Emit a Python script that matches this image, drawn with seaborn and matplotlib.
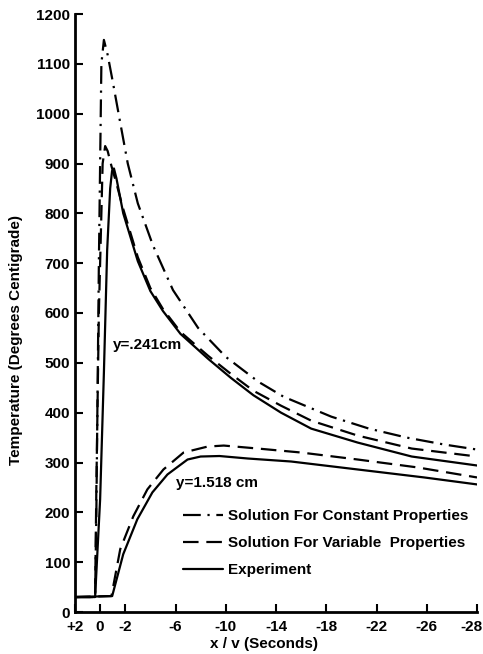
import numpy as np
import pandas as pd
import matplotlib
matplotlib.use("Agg")
import matplotlib.pyplot as plt
import matplotlib.transforms as mtransforms
import seaborn as sns

# ---- data ----
# y = .241 cm
const_x = [2, 0.4, 0.3, 0.1, -0.1, -0.3, -0.6, -1.0, -1.6, -2.2, -3.0, -4.2, -5.8, -7.8, -10, -12.6, -14.6, -18.4, -21.4, -24.4, -27.4, -30]
const_T = [30, 30, 200, 700, 1100, 1148, 1118, 1065, 982, 900, 820, 736, 646, 570, 512, 462, 432, 392, 368, 350, 336, 326]

var_x = [2, 0.4, 0.3, 0.1, -0.2, -0.4, -0.6, -0.9, -1.3, -1.8, -3.0, -4.0, -5.0, -6.4, -8.6, -10.4, -12.2, -14.4, -16.8, -20.5, -24.8, -30]
var_T = [30, 30, 250, 600, 900, 935, 925, 895, 860, 812, 712, 650, 608, 562, 514, 478, 444, 414, 384, 354, 328, 312]

exp_x = [2, 0.4, 0.0, -0.3, -0.56, -0.8, -0.95, -1.1, -1.3, -1.84, -3.0, -4.0, -5.0, -6.4, -8.6, -10.4, -12.2, -14.4, -16.8, -20.5, -24.8, -30]
exp_T = [30, 30, 226, 480, 726, 850, 885, 890, 870, 800, 704, 644, 604, 558, 508, 470, 435, 400, 368, 340, 312, 294]

# y = 1.518 cm
var2_x = [2, -0.9, -1.6, -2.64, -3.76, -5.04, -6.64, -8.56, -9.84, -12.56, -16, -20.5, -25.3, -30]
var2_T = [30, 32, 126, 192, 246, 286, 320, 332, 334, 328, 320, 306, 290, 270]

exp2_x = [2, -0.96, -1.84, -2.96, -4.16, -5.36, -6.96, -8.0, -9.5, -11.76, -15.2, -20.5, -25.8, -30]
exp2_T = [30, 32, 116, 186, 240, 276, 306, 312, 313, 308, 302, 286, 270, 256]

xticks = [2, 0, -2, -6, -10, -14, -18, -22, -26, -30]
xtick_labels = ["+2", "0", "-2", "-6", "-10", "-14", "-18", "-22", "-26", "-28"]
yticks = list(range(0, 1201, 100))
legend_labels = ["Solution For Constant Properties", "Solution For Variable  Properties", "Experiment"]

# ---- style ----
sns.set_style("ticks")
plt.rcParams["font.family"] = ["Liberation Sans", "DejaVu Sans"]
plt.rcParams["font.weight"] = "bold"
for key in ["text.color", "axes.labelcolor", "xtick.color", "ytick.color", "axes.edgecolor"]:
    plt.rcParams[key] = "black"

fig = plt.figure(figsize=(4.83, 6.54), dpi=100)
ax = fig.add_axes([75 / 483, 42 / 654, 402 / 483, 598 / 654])

lw = 1.6
dashdot = (0, (8, 3, 1, 3))
dashed = (0, (7, 3.5))

def draw(x, y, ls, label=None):
    df = pd.DataFrame({"x": x, "T": y})
    sns.lineplot(data=df, x="x", y="T", ax=ax, sort=False, estimator=None,
                 color="black", linewidth=lw, linestyle=ls, label=label)

draw(const_x, const_T, dashdot, legend_labels[0])
draw(var_x, var_T, dashed, legend_labels[1])
draw(var2_x, var2_T, dashed)
draw(exp_x, exp_T, "-", legend_labels[2])
draw(exp2_x, exp2_T, "-")

ax.set_xlim(2, -30)
ax.set_ylim(0, 1200)
ax.set_xticks(xticks)
ax.set_xticklabels(xtick_labels)
ax.set_yticks(yticks)
ax.set_yticklabels([str(v) for v in yticks])
ax.tick_params(direction="in", length=6, width=1.5, labelsize=11, colors="black")
ax.tick_params(axis="y", pad=3.5)
ax.tick_params(axis="x", pad=5.5)
for lab in ax.get_xticklabels() + ax.get_yticklabels():
    lab.set_fontweight("bold")
# nudge the last x label inward so it stays on the canvas
last = ax.get_xticklabels()[-1]
last.set_transform(last.get_transform() + mtransforms.ScaledTranslation(-6 / 100, 0, fig.dpi_scale_trans))

for s in ["top", "right"]:
    ax.spines[s].set_visible(False)
for s in ["left", "bottom"]:
    ax.spines[s].set_linewidth(2.0)
    ax.spines[s].set_color("black")

ax.set_xlabel("x / v (Seconds)", fontsize=11, fontweight="bold", color="black")
ax.set_ylabel("Temperature (Degrees Centigrade)", fontsize=11, fontweight="bold", color="black")
ax.yaxis.set_label_coords(-0.13, 0.455)
ax.xaxis.set_label_coords(0.47, -0.042)

ax.text(-1.0, 536, "y=.241cm", fontsize=11, fontweight="bold", va="center", ha="left", color="black")
ax.text(-6.0, 258, "y=1.518 cm", fontsize=11, fontweight="bold", va="center", ha="left", color="black")

leg = ax.legend(loc="upper left", bbox_to_anchor=(0.269, 0.172), frameon=False,
                borderpad=0, borderaxespad=0, handlelength=2.6, handletextpad=0.35,
                labelspacing=0.85, prop={"size": 11, "weight": "bold"})
for t in leg.get_texts():
    t.set_color("black")

fig.savefig("out.png", dpi=100)
